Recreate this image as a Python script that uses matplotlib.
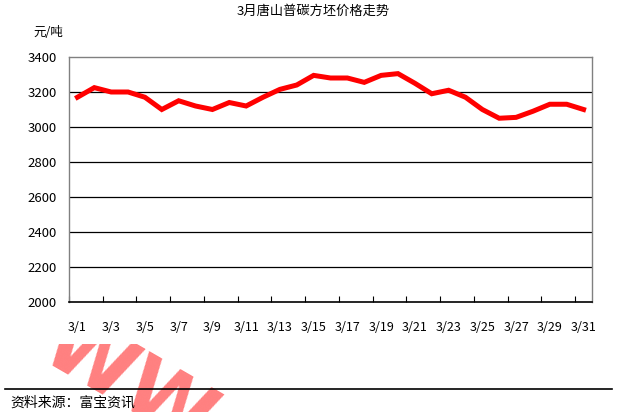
import matplotlib
matplotlib.use("Agg")
import matplotlib.pyplot as plt
from matplotlib.patches import Rectangle

plt.rcParams['font.family'] = ['Noto Sans CJK SC', 'DejaVu Sans']

# data
days = [f"3/{d}" for d in range(1, 32)]
prices = [3170, 3225, 3200, 3200, 3170, 3100, 3150, 3120, 3100, 3140,
          3120, 3170, 3215, 3240, 3295, 3280, 3280, 3255, 3295, 3305,
          3250, 3190, 3210, 3170, 3100, 3050, 3055, 3090, 3130, 3130, 3100]
y_ticks = [2000, 2200, 2400, 2600, 2800, 3000, 3200, 3400]

title = "3月唐山普碳方坯价格走势"
unit = "元/吨"
source = "资料来源：富宝资讯"

fig = plt.figure(figsize=(6.26, 4.12), dpi=100)
ax = fig.add_axes([69 / 626, 1 - 302 / 412, 523 / 626, 245 / 412])

x = [i + 0.5 for i in range(len(days))]
ax.plot(x, prices, color='#ff0000', linewidth=3.6, solid_joinstyle='miter', zorder=3)

ax.set_xlim(0, len(days))
ax.set_ylim(2000, 3400)
ax.set_yticks(y_ticks)
ax.set_yticklabels([str(v) for v in y_ticks], fontsize=9.5)
ax.tick_params(axis='y', length=0, pad=9)

# ticks every two days, labels centred on the categories
ax.set_xticks(range(0, len(days) + 1, 2))
ax.set_xticklabels([])
ax.set_xticks(x[::2], minor=True)
ax.set_xticklabels(days[::2], minor=True, fontsize=9)
ax.tick_params(axis='x', which='major', direction='in', length=4, color='black')
ax.tick_params(axis='x', which='minor', length=0, pad=14)

for v in y_ticks[1:-1]:
    ax.axhline(v, color='black', linewidth=0.9, zorder=1)

for side in ['left', 'right', 'top']:
    ax.spines[side].set_color('#808080')
    ax.spines[side].set_linewidth(1.0)
ax.spines['bottom'].set_color('black')
ax.spines['bottom'].set_linewidth(1.2)

fig.text(0.5, 1 - 11 / 412, title, ha='center', va='center', fontsize=9.5)
fig.text(48 / 626, 1 - 33 / 412, unit, ha='center', va='center', fontsize=9)

# partly cut watermark (drawn first, under everything)
wm = fig.text(128 / 626, 1 - 384 / 412, "WW", ha='center', va='center',
              fontsize=60, color='#ff8080', rotation=-30, fontweight='bold',
              family='DejaVu Sans', zorder=0)
clip = Rectangle((0, 0), 1, 1 - 344 / 412, transform=fig.transFigure)
wm.set_clip_path(clip)

# source line at the bottom
fig.add_artist(plt.Line2D([5 / 626, 612 / 626], [1 - 389 / 412, 1 - 389 / 412],
                          color='black', linewidth=1.2, zorder=10))
fig.text(10 / 626, 1 - 403 / 412, source, ha='left', va='center', fontsize=10,
         zorder=10)

fig.savefig("out.png", dpi=100)
